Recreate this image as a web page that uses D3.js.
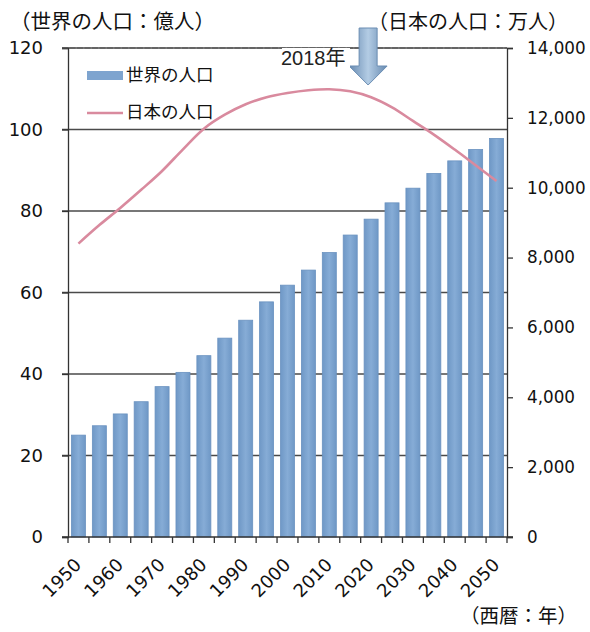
<!DOCTYPE html>
<html><head><meta charset="utf-8">
<script src="https://cdn.jsdelivr.net/npm/d3@7"></script>
<style>
body{margin:0;background:#fff;}
svg{display:block;}
</style></head>
<body>
<svg id="chart" width="590" height="632"></svg>
<script>
const years = d3.range(1950, 2051, 5);
const worldPop = [25.0, 27.3, 30.2, 33.2, 36.9, 40.4, 44.5, 48.8, 53.2, 57.7, 61.8, 65.5, 69.8, 74.1, 78.0, 82.0, 85.6, 89.2, 92.3, 95.1, 97.8];
const japanPop = [8400, 8930, 9420, 9940, 10480, 11100, 11690, 12090, 12390, 12590, 12710, 12790, 12820, 12760, 12590, 12300, 11913, 11522, 11092, 10642, 10192];
const leftTicks = [0, 20, 40, 60, 80, 100, 120];
const rightTicks = [0, 2000, 4000, 6000, 8000, 10000, 12000, 14000];
const xLabelYears = [1950, 1960, 1970, 1980, 1990, 2000, 2010, 2020, 2030, 2040, 2050];
const seriesNames = ["世界の人口", "日本の人口"];
const leftTitle = "（世界の人口：億人）";
const rightTitle = "（日本の人口：万人）";
const xTitle = "（西暦：年）";
const annotationText = "2018年";

const svg = d3.select("#chart");
const L = 68, R = 507, T = 48, B = 537;
const numFont = "'DejaVu Sans', Verdana, sans-serif";
const jpFont = "'Noto Sans CJK JP', sans-serif";

const x = d3.scaleBand().domain(years).range([L, R]).paddingInner(0.33).paddingOuter(0.165);
const yL = d3.scaleLinear().domain([0, 120]).range([B, T]);
const yR = d3.scaleLinear().domain([0, 14000]).range([B, T]);
const step = x.step(), bw = x.bandwidth();
const cx = d => x(d) + bw / 2;

// gradient defs
const defs = svg.append("defs");
const barGrad = defs.append("linearGradient").attr("id", "barGrad").attr("x1", "0").attr("x2", "1").attr("y1", "0").attr("y2", "0");
barGrad.append("stop").attr("offset", "0").attr("stop-color", "#6f98c6");
barGrad.append("stop").attr("offset", "0.5").attr("stop-color", "#86acd6");
barGrad.append("stop").attr("offset", "1").attr("stop-color", "#6f98c6");
const arrGrad = defs.append("linearGradient").attr("id", "arrGrad").attr("x1", "0").attr("x2", "1").attr("y1", "0").attr("y2", "0");
arrGrad.append("stop").attr("offset", "0").attr("stop-color", "#6689b0");
arrGrad.append("stop").attr("offset", "0.5").attr("stop-color", "#b3cce4");
arrGrad.append("stop").attr("offset", "1").attr("stop-color", "#6689b0");

// gridlines
svg.append("g").selectAll("line").data(leftTicks.filter(d => d > 0)).join("line")
  .attr("x1", L - 6).attr("x2", R).attr("y1", d => yL(d)).attr("y2", d => yL(d))
  .attr("stroke", "#4a4a4a").attr("stroke-width", 1.3);

// bars
svg.append("g").selectAll("rect").data(years).join("rect")
  .attr("x", d => x(d)).attr("width", bw)
  .attr("y", (d, i) => yL(worldPop[i])).attr("height", (d, i) => B - yL(worldPop[i]))
  .attr("fill", "url(#barGrad)").attr("stroke", "#6a92c0").attr("stroke-width", 0.8);

// Japan line
const line = d3.line().x((d, i) => cx(years[i])).y(d => yR(d)).curve(d3.curveCatmullRom.alpha(0.5));
svg.append("path").datum(japanPop).attr("d", line)
  .attr("fill", "none").attr("stroke", "#d98a9e").attr("stroke-width", 2.6);

// left axis
const axL = svg.append("g").attr("transform", `translate(${L},0)`)
  .call(d3.axisLeft(yL).tickValues(leftTicks).tickSize(6).tickPadding(19));
axL.select(".domain").attr("stroke", "#333").attr("stroke-width", 1.3);
axL.selectAll(".tick line").attr("stroke", "#333").attr("stroke-width", 1.3);
axL.selectAll("text").attr("font-family", numFont).attr("font-size", 18).attr("fill", "#111");

// right axis
const axR = svg.append("g").attr("transform", `translate(${R},0)`)
  .call(d3.axisRight(yR).tickValues(rightTicks).tickFormat(d3.format(",")).tickSize(6).tickPadding(14));
axR.select(".domain").attr("stroke", "#333").attr("stroke-width", 1.3);
axR.selectAll(".tick line").attr("stroke", "#333").attr("stroke-width", 1.3);
axR.selectAll("text").attr("font-family", numFont).attr("font-size", 16.8).attr("fill", "#111");

// bottom axis
const axB = svg.append("g").attr("transform", `translate(0,${B})`);
axB.append("line").attr("x1", L - 6).attr("x2", R + 6).attr("stroke", "#333").attr("stroke-width", 1.3);
const bounds = years.map(d => x(d) - (step - bw) / 2).concat([R]);
axB.selectAll("line.tk").data(bounds).join("line").attr("class", "tk")
  .attr("x1", d => d).attr("x2", d => d).attr("y1", 0).attr("y2", 6)
  .attr("stroke", "#333").attr("stroke-width", 1.3);
axB.selectAll("text").data(xLabelYears).join("text")
  .attr("transform", d => `translate(${cx(d) + 4},29) rotate(-45)`)
  .attr("text-anchor", "end")
  .attr("font-family", numFont).attr("font-size", 18).attr("fill", "#111")
  .text(d => d);

// top border
svg.append("line").attr("x1", L - 6).attr("x2", R).attr("y1", T).attr("y2", T)
  .attr("stroke", "#555").attr("stroke-width", 1.2).attr("stroke-dasharray", "6,1.5");

// titles
svg.append("text").attr("x", 10).attr("y", 29).attr("font-family", jpFont).attr("font-size", 20.5).attr("fill", "#111").text(leftTitle);
svg.append("text").attr("x", 568).attr("y", 29).attr("text-anchor", "end").attr("font-family", jpFont).attr("font-size", 20).attr("fill", "#111").text(rightTitle);
svg.append("text").attr("x", 577).attr("y", 623).attr("text-anchor", "end").attr("font-family", jpFont).attr("font-size", 19.5).attr("fill", "#111").text(xTitle);

// legend
const lg = svg.append("g");
lg.append("rect").attr("x", 87).attr("y", 71).attr("width", 36).attr("height", 9).attr("fill", "#7ea4cf");
lg.append("text").attr("x", 126).attr("y", 81).attr("font-family", jpFont).attr("font-size", 17.5).attr("fill", "#111").text(seriesNames[0]);
lg.append("line").attr("x1", 87).attr("x2", 123).attr("y1", 113).attr("y2", 113).attr("stroke", "#d98a9e").attr("stroke-width", 2.6);
lg.append("text").attr("x", 126).attr("y", 118).attr("font-family", jpFont).attr("font-size", 17.5).attr("fill", "#111").text(seriesNames[1]);

// annotation arrow
const ax0 = cx(2020) - 3;
const arrow = d3.path();
arrow.moveTo(ax0 - 9, 28); arrow.lineTo(ax0 + 9, 28); arrow.lineTo(ax0 + 9, 66);
arrow.lineTo(ax0 + 19, 66); arrow.lineTo(ax0, 85); arrow.lineTo(ax0 - 19, 66);
arrow.lineTo(ax0 - 9, 66); arrow.closePath();
svg.append("path").attr("d", arrow.toString()).attr("fill", "url(#arrGrad)").attr("stroke", "#6a8db3").attr("stroke-width", 1);
svg.append("rect").attr("x", 282).attr("y", 48).attr("width", 68).attr("height", 20).attr("fill", "#fff");
svg.append("text").attr("x", 281).attr("y", 65).attr("font-family", "'Liberation Sans', Arial, 'Noto Sans CJK JP', sans-serif")
  .attr("font-size", 20).attr("fill", "#222").text(annotationText);
</script>
</body></html>
